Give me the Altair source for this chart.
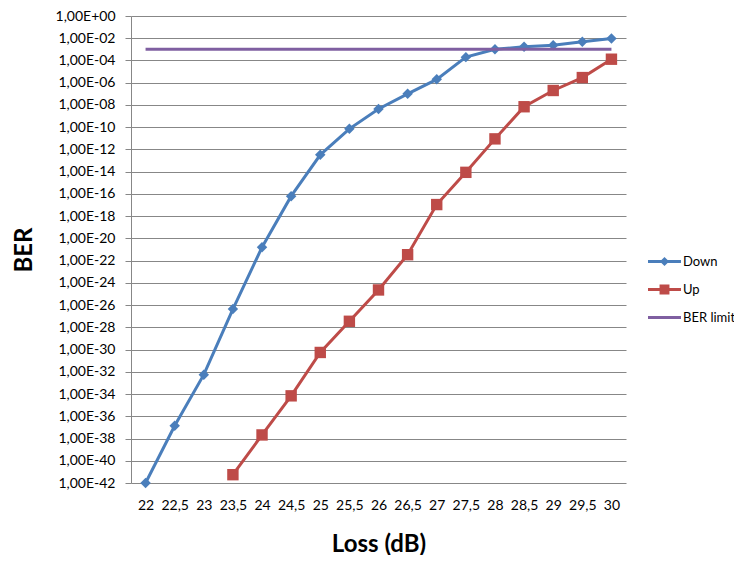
import altair as alt
import pandas as pd

loss_labels = ["22", "22,5", "23", "23,5", "24", "24,5", "25", "25,5", "26",
               "26,5", "27", "27,5", "28", "28,5", "29", "29,5", "30"]
down = [1.0e-42, 1.4e-37, 5.5e-33, 4.4e-27, 1.6e-21, 6.3e-17, 3.3e-13, 7.1e-11,
        4.3e-9, 1.0e-7, 2.0e-6, 2.0e-4, 1.0e-3, 1.7e-3, 2.4e-3, 4.8e-3, 9.5e-3]
up = [None, None, None, 5.6e-42, 2.1e-38, 6.9e-35, 5.5e-31, 3.5e-28, 2.3e-25,
      3.4e-22, 1.1e-17, 8.7e-15, 8.9e-12, 6.9e-9, 2.0e-7, 2.9e-6, 1.3e-4]
ber_limit = [1.0e-3] * 17
y_ticks = [1e0, 1e-2, 1e-4, 1e-6, 1e-8, 1e-10, 1e-12, 1e-14, 1e-16, 1e-18, 1e-20,
           1e-22, 1e-24, 1e-26, 1e-28, 1e-30, 1e-32, 1e-34, 1e-36, 1e-38, 1e-40, 1e-42]
series_names = ["Down", "Up", "BER limit"]
series_colors = ["#4A7EBB", "#BE4B48", "#7F5FA1"]

rows = []
for name, vals in zip(series_names, [down, up, ber_limit]):
    for lab, v in zip(loss_labels, vals):
        if v is not None:
            rows.append({"loss": lab, "ber": v, "series": name})
df = pd.DataFrame(rows)

FONT = "Lato"

label_expr = ("datum.value >= 1 ? '1,00E+00' : '1,00E-' + "
              "(round(-log(datum.value)/LN10) < 10 ? '0' : '') + round(-log(datum.value)/LN10)")

x_enc = alt.X("loss:O", sort=loss_labels,
              scale=alt.Scale(type="point", padding=0.5),
              axis=alt.Axis(title="Loss (dB)", labelAngle=0, ticks=False, domain=False,
                            labelPadding=15, labelFontSize=14, labelColor="#000",
                            titleFontSize=24, titleFontWeight="bold", titlePadding=20,
                            labelFont=FONT, titleFont=FONT, titleColor="#000"))
y_enc = alt.Y("ber:Q",
              scale=alt.Scale(type="log", domain=[1e-42, 1], nice=False),
              axis=alt.Axis(title="BER", values=y_ticks, labelExpr=label_expr,
                            grid=True, gridColor="#878787", domainColor="#878787",
                            tickColor="#878787", tickSize=6, labelPadding=10,
                            labelFontSize=14, labelColor="#000", labelFont=FONT,
                            titleFont=FONT, titleFontSize=24, titleFontWeight="bold",
                            titleColor="#000", titlePadding=19))
color_scale = alt.Scale(domain=series_names, range=series_colors)

base = alt.Chart(df)

line_layers = [
    base.transform_filter(alt.datum.series == name).mark_line(strokeWidth=3, color=col).encode(
        x=x_enc, y=y_enc)
    for name, col in zip(series_names, series_colors)
]

diamonds = base.transform_filter(alt.datum.series == "Down").mark_point(
    shape="diamond", filled=True, size=110, opacity=1, color=series_colors[0]).encode(x=x_enc, y=y_enc)

squares = base.transform_filter(alt.datum.series == "Up").mark_point(
    shape="square", filled=True, size=130, opacity=1, color=series_colors[1]).encode(x=x_enc, y=y_enc)

legend_paths = [
    "M-1,-0.09H1V0.09H-1Z M0,-0.28L0.28,0L0,0.28L-0.28,0Z",
    "M-1,-0.09H1V0.09H-1Z M-0.3,-0.3H0.3V0.3H-0.3Z",
    "M-1,-0.09H1V0.09H-1Z",
]
leg = alt.Legend(title=None, orient="none", legendX=517, legendY=229,
                 symbolSize=1089, symbolStrokeWidth=0,
                 labelFontSize=13, labelFont=FONT, labelColor="#000",
                 labelOffset=2, rowPadding=4, symbolOpacity=1)
legend_layer = base.mark_point(filled=True, opacity=0).encode(
    x=x_enc, y=y_enc,
    color=alt.Color("series:N", scale=color_scale, legend=leg),
    shape=alt.Shape("series:N", scale=alt.Scale(domain=series_names, range=legend_paths),
                    legend=leg),
)

chart = alt.layer(line_layers[0], line_layers[1], diamonds, squares, line_layers[2],
                  legend_layer).properties(
    width=495, height=467,
    autosize=alt.AutoSizeParams(type="none"),
    padding={"left": 123, "top": 8, "right": 108, "bottom": 72},
    background="white",
).configure_view(stroke=None)

chart.save("out.html", embed_options={"renderer": "svg", "actions": False})
